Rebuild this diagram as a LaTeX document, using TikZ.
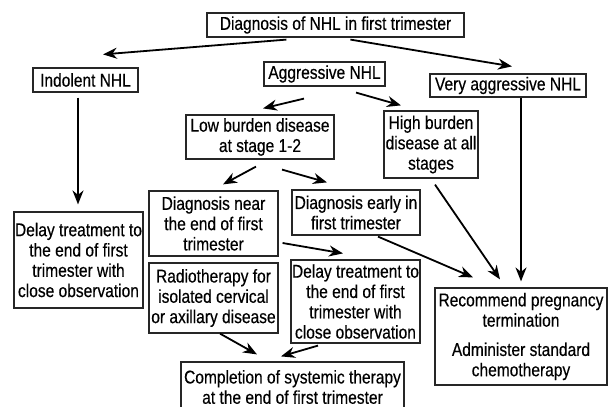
\documentclass[tikz,border=0pt]{standalone}
\usepackage{fontspec}
\setmainfont{Liberation Sans}[FakeStretch=0.84,FakeBold=0.4]
\usetikzlibrary{arrows.meta}
\begin{document}
\begin{tikzpicture}[x=1pt,y=-1pt,
  box/.style={draw=black!85, line width=1.2pt, align=center, inner sep=0pt,
    rectangle, font=\fontsize{18.5}{20.3}\selectfont},
  arr/.style={-{Stealth[length=14pt,width=11pt]}, line width=1.8pt}]
\useasboundingbox (0,0) rectangle (608,407);
\clip (0,0) rectangle (608,407);
\node[box, minimum width=257pt, minimum height=24pt] (top) at (335.5,25) {Diagnosis of NHL in first trimester};
\node[box, minimum width=105pt, minimum height=24pt] (indolent) at (85.5,80) {Indolent NHL};
\node[box, minimum width=121pt, minimum height=24pt] (aggr) at (324.5,74) {Aggressive NHL};
\node[box, minimum width=156pt, minimum height=23pt] (very) at (508,85.5) {Very aggressive NHL};
\node[box, minimum width=148pt, minimum height=44pt] (low) at (260,137) {Low burden disease\\at stage 1-2};
\node[box, minimum width=94pt, minimum height=67pt] (high) at (431,144.5) {High burden\\disease at all\\stages};
\node[box, minimum width=129pt, minimum height=65pt] (near) at (213.5,223.5) {Diagnosis near\\the end of first\\trimester};
\node[box, minimum width=128pt, minimum height=45pt] (early) at (356,212.5) {Diagnosis early in\\first trimester};
\node[box, minimum width=129pt, minimum height=96pt] (delayL) at (78.5,260) {Delay treatment to\\the end of first\\trimester with\\close observation};
\node[box, minimum width=129pt, minimum height=70pt] (radio) at (213.5,298) {Radiotherapy for\\isolated cervical\\or axillary disease};
\node[box, minimum width=129pt, minimum height=83pt] (delayM) at (355.5,301.5) {Delay treatment to\\the end of first\\trimester with\\close observation};
\node[box, minimum width=223pt, minimum height=50pt] (comp) at (292.5,387) {Completion of systemic therapy\\at the end of first trimester};
\node[box, minimum width=172pt, minimum height=97pt] (rec) at (521,336.5) {Recommend pregnancy\\termination\\[9pt]Administer standard\\chemotherapy};

\draw[arr] ([shift={(80,2)}]top.south west) -- ([shift={(17.5,-13)}]indolent.north);
\draw[arr] ([shift={(144,2)}]top.south west) -- ([shift={(4,-7)}]very.north);
\draw[arr] ([shift={(-20.5,12)}]aggr.south) -- ([shift={(3,-6)}]low.north);
\draw[arr] ([shift={(31.5,6)}]aggr.south) -- ([shift={(-30,-5)}]high.north);
\draw[arr] ([shift={(-7.5,5)}]indolent.south) -- ([shift={(-0.5,-7)}]delayL.north);
\draw[arr] ([shift={(13,0)}]very.south) -- ([shift={(0,-6)}]rec.north);
\draw[arr] ([shift={(-4,7)}]low.south) -- ([shift={(9.5,-6)}]near.north);
\draw[arr] ([shift={(22,10)}]low.south) -- ([shift={(-29,-7)}]early.north);
\draw[arr] ([shift={(4,6)}]high.south) -- ([shift={(-21,-8)}]rec.north);
\draw[arr] ([shift={(22,1)}]early.south) -- ([shift={(-48,-10)}]rec.north);
\draw[arr] ([shift={(4,19.5)}]near.east) -- ([shift={(-12.5,-6)}]delayM.north);
\draw[arr] ([shift={(6.5,0)}]radio.south) -- ([shift={(-35.5,-7)}]comp.north);
\draw[arr] ([shift={(-37.5,2)}]delayM.south) -- ([shift={(-11.5,-5)}]comp.north);
\end{tikzpicture}
\end{document}
